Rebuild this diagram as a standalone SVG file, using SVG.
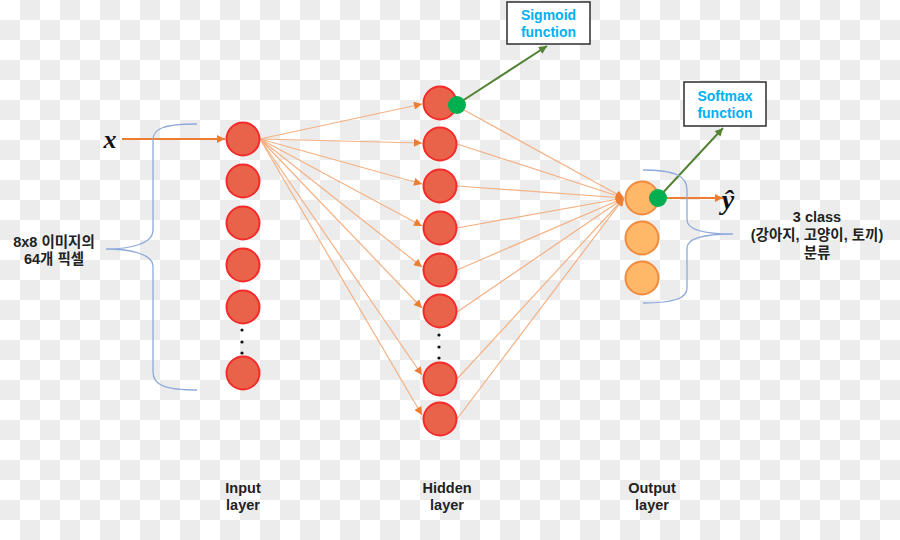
<svg xmlns="http://www.w3.org/2000/svg" width="900" height="540" viewBox="0 0 900 540">
<defs>
<pattern id="checker" width="40" height="40" patternUnits="userSpaceOnUse">
<rect width="40" height="40" fill="#ffffff"/>
<rect x="20" y="0" width="20" height="20" fill="#ececec"/>
<rect x="0" y="20" width="20" height="20" fill="#ececec"/>
</pattern>
<marker id="ah" viewBox="0 0 10 10" refX="10" refY="5" markerWidth="9" markerHeight="8" markerUnits="userSpaceOnUse" orient="auto">
<path d="M0,0 L10,5 L0,10 z" fill="#ED7D31"/>
</marker>
<marker id="ahg" viewBox="0 0 10 10" refX="10" refY="5" markerWidth="9" markerHeight="8" markerUnits="userSpaceOnUse" orient="auto">
<path d="M0,0 L10,5 L0,10 z" fill="#548235"/>
</marker>
</defs>
<style>
.n{fill:#E9634A;stroke:#F52A2A;stroke-width:2}
.o{fill:#FFB868;stroke:#F28A3E;stroke-width:2}
.g{fill:#00B050}
.c{stroke:#F4B183;stroke-width:1.2;fill:none;marker-end:url(#ah)}
.br{fill:none;stroke:#8EA9DB;stroke-width:1.3}
.t{font-family:"Liberation Sans","Noto Sans CJK KR",sans-serif;font-weight:bold;font-size:14.5px;fill:#222;text-anchor:middle}
.b{font-family:"Liberation Sans","Noto Sans CJK KR",sans-serif;font-weight:bold;font-size:14px;fill:#00B0F0;text-anchor:middle}
.box{fill:#ffffff;stroke:#3a3a3a;stroke-width:1.6}
.d{fill:#111}
</style>
<rect width="900" height="540" fill="url(#checker)"/>

<g id="connectors">
<line x1="122" y1="139" x2="225" y2="139" stroke="#ED7D31" stroke-width="2" marker-end="url(#ah)"/>
<line class="c" x1="260" y1="139" x2="422" y2="104"/>
<line class="c" x1="260" y1="139" x2="422" y2="143"/>
<line class="c" x1="260" y1="139" x2="422" y2="184"/>
<line class="c" x1="260" y1="139" x2="422" y2="226"/>
<line class="c" x1="260" y1="139" x2="422" y2="267"/>
<line class="c" x1="260" y1="139" x2="422" y2="308"/>
<line class="c" x1="260" y1="139" x2="422" y2="375"/>
<line class="c" x1="260" y1="139" x2="422" y2="415"/>
<line class="c" x1="464" y1="110" x2="624" y2="198"/>
<line class="c" x1="457" y1="144" x2="624" y2="198"/>
<line class="c" x1="457" y1="186" x2="624" y2="198"/>
<line class="c" x1="457" y1="228" x2="624" y2="198"/>
<line class="c" x1="457" y1="270" x2="624" y2="198"/>
<line class="c" x1="457" y1="312" x2="624" y2="198"/>
<line class="c" x1="457" y1="379" x2="624" y2="198"/>
<line class="c" x1="457" y1="419" x2="624" y2="198"/>
<line x1="456" y1="105" x2="547" y2="46" stroke="#548235" stroke-width="2" marker-end="url(#ahg)"/>
<line x1="658" y1="198" x2="723" y2="128" stroke="#548235" stroke-width="2" marker-end="url(#ahg)"/>
<line x1="667" y1="198" x2="723" y2="198" stroke="#ED7D31" stroke-width="2" marker-end="url(#ah)"/>
</g>

<g id="input-layer">
<circle class="n" cx="243" cy="139" r="16.5"/>
<circle class="n" cx="243" cy="181" r="16.5"/>
<circle class="n" cx="243" cy="223" r="16.5"/>
<circle class="n" cx="243" cy="265" r="16.5"/>
<circle class="n" cx="243" cy="307" r="16.5"/>
<circle class="d" cx="242" cy="330" r="1.6"/>
<circle class="d" cx="242" cy="342" r="1.6"/>
<circle class="d" cx="242" cy="353" r="1.6"/>
<circle class="n" cx="243" cy="373" r="16.5"/>
</g>

<g id="hidden-layer">
<circle class="n" cx="440" cy="103" r="16.5"/>
<circle class="n" cx="440" cy="144" r="16.5"/>
<circle class="n" cx="440" cy="186" r="16.5"/>
<circle class="n" cx="440" cy="228" r="16.5"/>
<circle class="n" cx="440" cy="270" r="16.5"/>
<circle class="n" cx="440" cy="311" r="16.5"/>
<circle class="d" cx="439" cy="335" r="1.6"/>
<circle class="d" cx="439" cy="347" r="1.6"/>
<circle class="d" cx="439" cy="358" r="1.6"/>
<circle class="n" cx="440" cy="379" r="16.5"/>
<circle class="n" cx="440" cy="419" r="16.5"/>
<circle class="g" cx="457" cy="105" r="9"/>
</g>

<g id="output-layer">
<circle class="o" cx="642" cy="198" r="16.5"/>
<circle class="o" cx="642" cy="238" r="16.5"/>
<circle class="o" cx="642" cy="278" r="16.5"/>
<circle class="g" cx="658" cy="198" r="9"/>
</g>

<g id="sigmoid">
<rect class="box" x="507" y="2" width="83" height="42"/>
<text class="b" x="548.5" y="20">Sigmoid</text>
<text class="b" x="548.5" y="37">function</text>
</g>

<g id="softmax">
<rect class="box" x="684" y="82" width="82" height="44"/>
<text class="b" x="725" y="101">Softmax</text>
<text class="b" x="725" y="118">function</text>
</g>

<g id="input-brace">
<path class="br" d="M197,124 C165,124 153,128 153,140 L153,230 C153,244 130,249 106,249 C130,249 153,254 153,266 L153,372 C153,385 165,390 197,390"/>
<text class="t" x="54" y="247">8x8 이미지의</text>
<text class="t" x="54" y="264">64개 픽셀</text>
</g>

<g id="output-brace">
<path class="br" d="M643,170 C675,170 687,176 687,190 L687,220 C687,230 705,234 733,234 C705,234 687,238 687,248 L687,288 C687,298 675,303 643,303"/>
<text class="t" x="817" y="222">3 class</text>
<text class="t" x="817" y="240">(강아지, 고양이, 토끼)</text>
<text class="t" x="817" y="258">분류</text>
</g>

<g id="x-label">
<text x="110" y="148" font-family="Liberation Serif, serif" font-style="italic" font-weight="bold" font-size="26" text-anchor="middle" fill="#111">x</text>
</g>
<g id="yhat-label">
<text x="728" y="209" font-family="Liberation Serif, serif" font-style="italic" font-weight="bold" font-size="28" text-anchor="middle" fill="#111">ŷ</text>
</g>

<g id="layer-labels">
<text class="t" x="243" y="493">Input</text>
<text class="t" x="243" y="510">layer</text>
<text class="t" x="447" y="493">Hidden</text>
<text class="t" x="447" y="510">layer</text>
<text class="t" x="652" y="493">Output</text>
<text class="t" x="652" y="510">layer</text>
</g>
</svg>
